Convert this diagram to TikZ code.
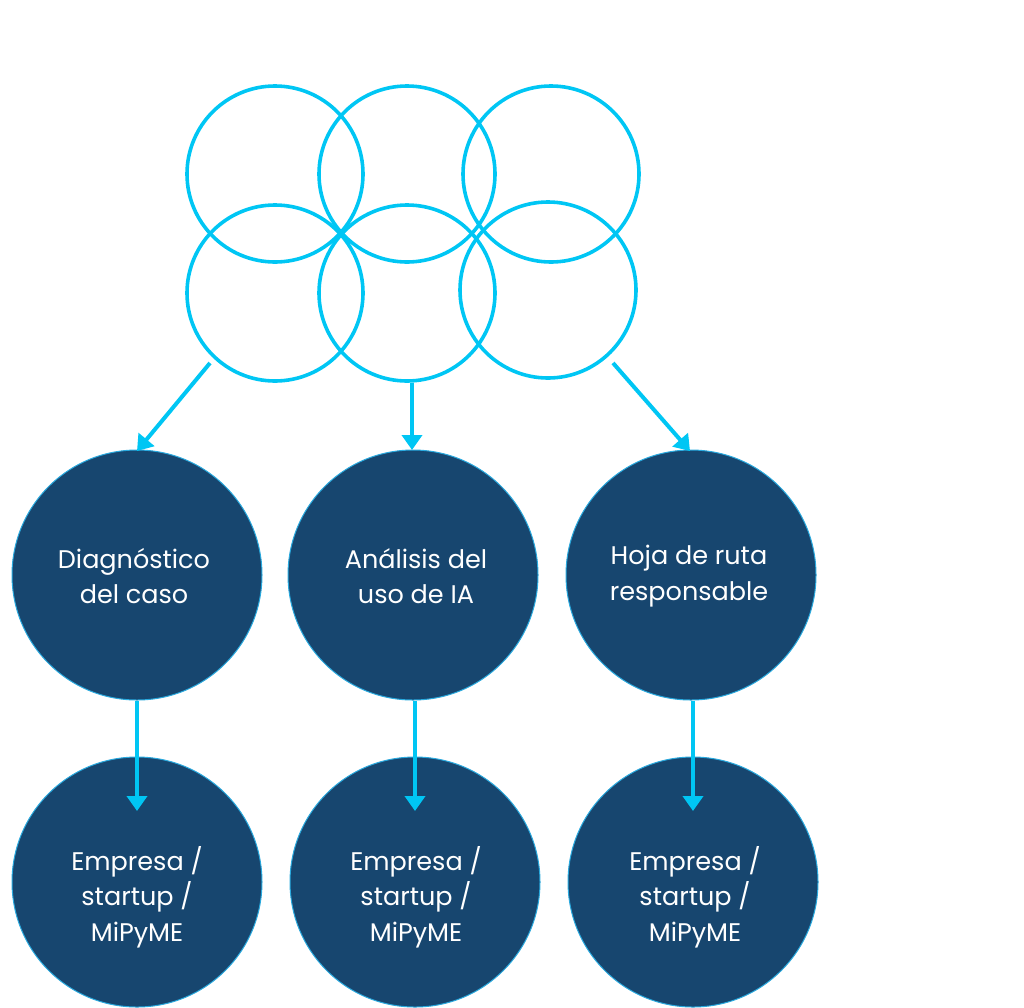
\documentclass[tikz,border=0pt]{standalone}
\usepackage{fontspec}
\setmainfont{Poppins}
\usetikzlibrary{arrows.meta}
\definecolor{cy}{HTML}{00C6F4}
\definecolor{navy}{HTML}{17466F}
\definecolor{rim}{HTML}{29A9DE}
\tikzset{
  ring/.style={circle,draw=cy,line width=3.6pt,minimum size=176pt,inner sep=0pt},
  disc/.style={circle,fill=navy,draw=rim,line width=1pt,minimum size=250pt,inner sep=0pt},
  lbl/.style={text=white,align=center,font=\fontsize{25.5}{35.5}\selectfont},
  arr/.style={draw=cy,line width=4pt,-{Triangle[width=20pt,length=15pt]}}
}
\begin{document}
\begin{tikzpicture}[x=1pt,y=-1pt]
\useasboundingbox (0,0) rectangle (1024,1007);
% outline rings
\node[ring] (r1) at (275,174) {};
\node[ring] (r2) at (407,174) {};
\node[ring] (r3) at (551,174) {};
\node[ring] (r4) at (275,293) {};
\node[ring] (r5) at (407,293) {};
\node[ring] (r6) at (548,290) {};
% discs
\node[disc] (a1) at (137,575) {};
\node[disc] (b1) at (413,575) {};
\node[disc] (c1) at (691,575) {};
\node[disc] (a2) at (137,882) {};
\node[disc] (b2) at (415,882) {};
\node[disc] (c2) at (693,882) {};
% labels
\node[lbl] (ta1) at (134,576) {Diagnóstico\\del caso};
\node[lbl] (tb1) at (416,576) {Análisis del\\uso de IA};
\node[lbl] (tc1) at (689,576) {Hoja de ruta\\responsable};
\node[lbl] (ta2) at (137,897) {Empresa /\\startup /\\MiPyME};
\node[lbl] (tb2) at (416,897) {Empresa /\\startup /\\MiPyME};
\node[lbl] (tc2) at (695,897) {Empresa /\\startup /\\MiPyME};
% arrow start/end points
\coordinate (s1) at (210,363);
\coordinate (e1) at (137,451);
\coordinate (s2) at (412,383);
\coordinate (e2) at (412,450);
\coordinate (s3) at (613,363);
\coordinate (e3) at (690,451);
\draw[arr] (s1) -- (e1);
\draw[arr] (s2) -- (e2);
\draw[arr] (s3) -- (e3);
\coordinate (m1) at (137,811);
\coordinate (m2) at (415,811);
\coordinate (m3) at (693,811);
\draw[arr] (a1.south) -- (m1);
\draw[arr] (b1.south -| m2) -- (m2);
\draw[arr] (c1.south -| m3) -- (m3);
\end{tikzpicture}
\end{document}
